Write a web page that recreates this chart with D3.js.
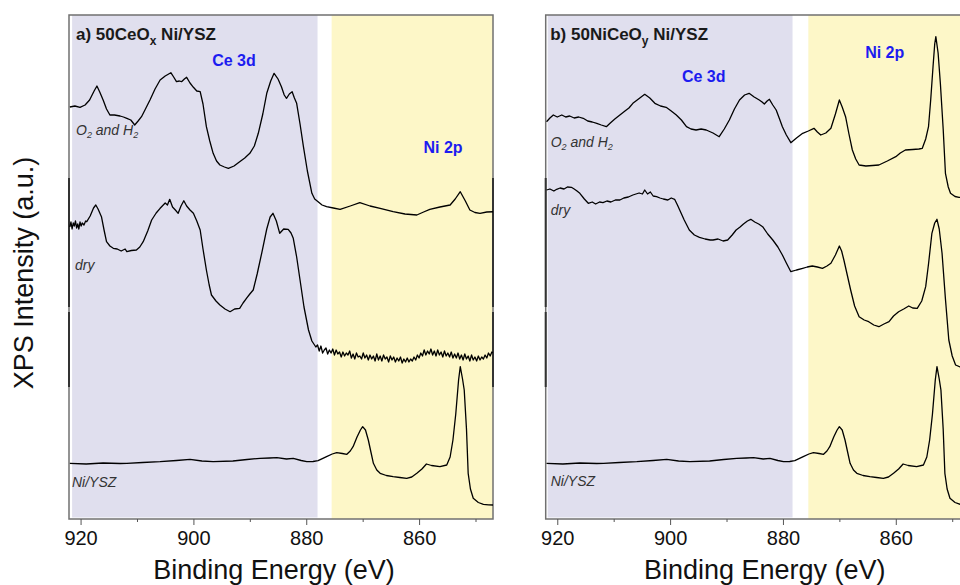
<!DOCTYPE html>
<html>
<head>
<meta charset="utf-8">
<script src="https://cdn.jsdelivr.net/npm/d3@7"></script>
<style>
  body { margin: 0; background: #fff; }
  svg { font-family: "Liberation Sans", Arial, sans-serif; display: block; }
</style>
</head>
<body>
<svg id="chart" width="960" height="585"></svg>
<script>
// binding energy axis (eV)
const majorTicks = [920, 900, 880, 860];
const minorTicks = [910, 890, 870, 850];
const energyDomain = [922.05, 846.9];

// shaded regions [from, to] in eV
const ceBandA = [921.5, 878.0];
const ceBandB = [921.7, 878.3];
const niBand = [875.5, 846.9];

// spectra: [binding energy, intensity (a.u., stacked offsets)]
const aO2H2 = [
  [921.9, 412], [921.0, 413], [920.1, 411.7], [919.2, 414], [918.4, 419], [917.6, 428], [917.1, 433],
  [916.6, 427], [916.0, 419], [915.4, 410], [914.8, 404], [914.0, 404], [913.0, 403], [912.4, 402],
  [911.8, 400.7], [911.1, 399], [910.4, 394], [909.8, 398], [909.2, 402.3], [908.5, 410], [907.7, 419],
  [906.8, 430], [905.9, 439], [905.0, 443], [904.0, 446.3], [903.5, 442], [903.0, 437.3], [902.5, 438],
  [902.1, 437.3], [901.6, 440], [901.2, 441.7], [900.6, 436], [900.0, 431.7], [899.4, 428], [898.8, 427.3],
  [898.3, 415], [897.7, 392.3], [897.1, 378], [896.5, 365.7], [895.9, 358], [895.3, 354], [894.5, 352],
  [893.8, 350.7], [892.8, 353], [891.8, 357.3], [890.9, 361], [890.0, 365.7], [889.2, 373], [888.5, 385.7],
  [887.7, 405], [887.0, 425.7], [886.3, 438], [885.7, 445.7], [885.0, 440], [884.4, 432.3], [883.9, 424],
  [883.5, 420.7], [883.0, 425], [882.5, 427.3], [882.1, 421], [881.7, 415.7], [881.1, 395], [880.5, 372.3],
  [879.8, 348], [879.0, 325.7], [878.5, 320], [877.9, 317.3], [877.2, 314], [876.4, 312.3], [875.2, 311],
  [874.0, 309.7], [872.2, 313], [870.5, 316.3], [868.7, 313], [866.9, 310.7], [864.6, 307.3], [862.5, 305],
  [860.4, 304], [859.2, 307], [858.1, 309.7], [856.3, 312], [854.5, 314], [853.6, 320], [852.7, 327.3],
  [851.8, 318], [851.0, 309], [850.1, 306.5], [849.2, 305.7], [848.0, 307], [846.8, 307.3]
];

const aDry = [
  [921.9, 292], [921.7, 297], [921.5, 290], [921.3, 296], [921.1, 293], [920.9, 298], [920.7, 291],
  [920.5, 295], [920.3, 290], [920.1, 297], [919.9, 293], [919.7, 296], [919.4, 294], [919.1, 298],
  [918.9, 297.3], [918.3, 303], [917.7, 311], [917.3, 314], [916.9, 310], [916.3, 302.3],
  [915.8, 288], [915.4, 277.3], [914.8, 273], [914.2, 270.7], [913.5, 270], [912.8, 268], [912.1, 270],
  [911.8, 267.3], [911.0, 268.5], [910.1, 269], [909.5, 272], [908.9, 277.3], [908.1, 288], [907.4, 299],
  [906.6, 306], [905.9, 310.7], [905.0, 316], [904.6, 314], [904.2, 319.7], [903.7, 312], [903.2, 309],
  [902.7, 305.7], [902.2, 313], [901.7, 318.3], [901.2, 313], [900.6, 309], [900.0, 305.7], [899.4, 298],
  [898.8, 289], [898.3, 270], [897.7, 249], [897.2, 234], [896.8, 224], [896.0, 218], [895.3, 214],
  [894.4, 210], [893.5, 207.3], [892.7, 210], [891.8, 210.7], [891.2, 216], [890.6, 220.7], [890.0, 225],
  [889.4, 229], [888.7, 245], [887.9, 265.7], [887.0, 290], [886.4, 302], [885.9, 305.7], [885.3, 298],
  [884.7, 285.7], [884.0, 290], [883.2, 289.7], [882.7, 286], [882.3, 280.7], [881.7, 262], [881.1, 239],
  [880.4, 212], [879.6, 189], [879.0, 178], [878.3, 172],
  [878.0, 174], [877.7, 168], [877.4, 173], [877.1, 166], [876.8, 169], [876.5, 171], [876.2, 165],
  [875.9, 169], [875.6, 166], [875.3, 170], [875.0, 164], [874.7, 169], [874.4, 165], [874.1, 167],
  [873.8, 162], [873.5, 167], [873.2, 163], [872.9, 166], [872.6, 164], [872.3, 168], [872.0, 161],
  [871.7, 165], [871.4, 160], [871.1, 166], [870.8, 162], [870.5, 163], [870.2, 160], [869.9, 166],
  [869.6, 161], [869.3, 164], [869.0, 159], [868.7, 164], [868.4, 160], [868.1, 163], [867.8, 158],
  [867.5, 165], [867.2, 159], [866.9, 163], [866.6, 158], [866.3, 164], [866.0, 160], [865.7, 162],
  [865.4, 157], [865.1, 163], [864.8, 159], [864.5, 162], [864.2, 157], [863.9, 161], [863.6, 158],
  [863.3, 162], [863.0, 156], [862.7, 160], [862.4, 157], [862.1, 161], [861.8, 157], [861.5, 160],
  [861.2, 158], [860.9, 162], [860.6, 159], [860.3, 164], [860.0, 161], [859.7, 166], [859.4, 163],
  [859.1, 169], [858.8, 164], [858.5, 168], [858.2, 165], [857.9, 170], [857.6, 164], [857.3, 168],
  [857.0, 163], [856.7, 169], [856.4, 164], [856.1, 167], [855.8, 162], [855.5, 168], [855.2, 163],
  [854.9, 166], [854.6, 162], [854.3, 167], [854.0, 161], [853.7, 165], [853.4, 161], [853.1, 166],
  [852.8, 160], [852.5, 164], [852.2, 159], [851.9, 165], [851.6, 160], [851.3, 163], [851.0, 158],
  [850.7, 164], [850.4, 159], [850.1, 162], [849.8, 158], [849.5, 163], [849.2, 159], [848.9, 162],
  [848.6, 160], [848.3, 164], [848.0, 161], [847.7, 166], [847.4, 163], [847.1, 167], [846.8, 166]
];

// reference Ni/YSZ, same spectrum in both panels
const niYsz = [
  [921.9, 55.7], [919.0, 55], [916.0, 56], [913.0, 55.5], [911.8, 55.7], [909.0, 56.5], [905.9, 57.3],
  [903.0, 58.5], [900.6, 59.7], [898.5, 58], [896.5, 57.3], [893.0, 58], [890.5, 59.5], [888.2, 60.7],
  [886.5, 61], [885.2, 61.3], [883.5, 60], [882.3, 60.7], [880.9, 58.5], [879.9, 57.3], [878.8, 57.5],
  [877.9, 58.3], [876.4, 62.3], [875.4, 65], [874.6, 66.3], [873.6, 65.5], [872.8, 64.7], [872.2, 68],
  [871.7, 72.3], [871.0, 82], [870.4, 89], [870.0, 92.3], [869.5, 89], [869.0, 79], [868.5, 66],
  [868.1, 55.7], [867.5, 49], [866.9, 45.7], [865.8, 43.5], [864.6, 42.3], [863.4, 41.5], [862.2, 40.7],
  [861.3, 42], [860.4, 45.7], [859.5, 50], [858.7, 55], [857.8, 53.5], [856.3, 52.3], [855.1, 54],
  [854.5, 62], [854.0, 79], [853.5, 105], [853.0, 139], [852.7, 152.3], [852.3, 140], [852.0, 129],
  [851.6, 90], [851.3, 45.7], [850.9, 30], [850.4, 20.7], [849.5, 16.5], [848.6, 14.7], [847.7, 14.2],
  [846.8, 14]
];

const bO2H2 = [
  [921.9, 397.3], [921.3, 401], [920.7, 404], [920.0, 402], [919.2, 404], [918.5, 402], [917.8, 403],
  [917.0, 401], [916.2, 402], [915.4, 400.7], [914.6, 398], [913.8, 397], [913.0, 395.7], [912.2, 394],
  [911.3, 392.3], [910.6, 396], [909.8, 400], [908.9, 404], [908.0, 408], [907.3, 411], [906.6, 415.7],
  [905.6, 420], [904.5, 424.7], [903.6, 421], [902.7, 415.7], [901.7, 413], [900.7, 411.7], [899.8, 408],
  [898.9, 404], [898.0, 399], [897.1, 392.3], [896.3, 390], [895.4, 389], [894.5, 390], [893.6, 389],
  [892.4, 386], [891.3, 382.3], [890.4, 390], [889.5, 399], [888.6, 410], [887.7, 419], [886.8, 424],
  [886.0, 425.7], [885.1, 422], [884.2, 419], [883.7, 417], [883.3, 415], [882.8, 418], [882.4, 419.7],
  [881.8, 414], [881.2, 409], [880.6, 400], [880.1, 392.3], [879.4, 384], [878.6, 376.3], [877.6, 381],
  [876.5, 385.7], [875.5, 388], [874.5, 390.7], [873.9, 387], [873.3, 384], [872.4, 386], [871.5, 390.7],
  [870.7, 405], [870.0, 419], [869.5, 412], [868.9, 402.3], [868.3, 385], [867.7, 369], [867.1, 360],
  [866.5, 354], [865.3, 353], [864.1, 353.5], [863.0, 354], [861.5, 358], [860.0, 362.3], [859.2, 366],
  [858.3, 369], [857.0, 369.5], [855.9, 370], [855.3, 370.7], [854.7, 380], [854.2, 392.3], [853.8, 420],
  [853.4, 452.3], [853.1, 475], [852.9, 482.3], [852.5, 466], [852.1, 435.7], [851.6, 390], [851.2, 345.7],
  [850.7, 332], [850.3, 325.7], [849.5, 322.5], [848.8, 321.7], [847.8, 321], [846.8, 321]
];

const bDry = [
  [921.9, 329], [921.3, 330], [920.6, 328], [920.1, 329.7], [919.5, 331], [918.8, 330], [918.2, 332],
  [917.5, 331.7], [917.0, 330], [916.5, 328], [916.0, 325.7], [915.2, 320], [914.5, 315.7], [913.8, 317],
  [913.2, 315], [912.5, 317], [911.9, 316.3], [911.2, 318], [910.5, 317], [909.7, 319], [908.9, 319],
  [908.2, 321], [907.4, 322], [906.6, 324], [905.5, 326], [904.9, 325], [904.5, 329], [904.0, 325],
  [903.5, 327], [903.0, 323], [902.4, 322.3], [901.8, 321], [901.2, 320], [900.4, 319], [899.8, 321],
  [899.2, 319.7], [898.7, 314], [898.3, 309], [897.5, 299], [896.6, 289], [895.7, 284], [894.8, 281.7],
  [893.8, 280], [892.9, 279], [892.4, 279], [891.5, 280], [890.6, 278], [889.8, 279], [889.0, 284],
  [888.3, 289], [887.6, 292], [887.0, 295], [886.3, 298], [885.7, 299.7], [885.0, 297], [884.3, 295],
  [883.6, 292.3], [882.7, 285], [881.8, 279], [880.9, 272], [880.1, 264], [879.4, 256], [878.6, 247.3],
  [877.6, 249], [876.5, 250.7], [875.7, 252], [874.8, 253], [873.9, 252], [873.0, 250.7], [872.2, 253],
  [871.5, 255.7], [870.7, 264], [870.0, 273], [869.6, 268], [869.2, 259], [868.6, 244], [868.0, 229],
  [867.3, 213], [866.5, 202.3], [865.6, 199], [864.8, 197.3], [863.9, 194], [863.0, 192.3], [862.1, 195],
  [861.2, 197.3], [860.4, 203], [859.5, 207.3], [858.6, 210], [857.7, 213], [857.0, 211], [856.2, 210.7],
  [855.4, 218], [854.7, 232.3], [854.2, 255], [853.6, 285.7], [853.1, 296], [852.7, 299.7], [852.3, 290],
  [851.8, 265.7], [851.2, 220], [850.6, 179], [850.0, 163], [849.4, 154], [848.6, 152], [847.8, 151.5],
  [846.8, 151]
];

const panels = [
  {
    left: 69, title: ['a) 50CeO', 'x', ' Ni/YSZ'], ceBand: ceBandA,
    series: [aO2H2, aDry, niYsz],
    labels: [[7, 120], [6, 255], [3, 472]],
    ceLabel: [165, 51], niLabel: [374, 138], xTitle: 205
  },
  {
    left: 545.7, title: ['b) 50NiCeO', 'y', ' Ni/YSZ'], ceBand: ceBandB,
    series: [bO2H2, bDry, niYsz],
    labels: [[5, 132], [5, 200], [5, 471]],
    ceLabel: [158, 67], niLabel: [339, 43], xTitle: 219
  }
];

// label text pieces: [text, isSubscript]
const sampleNames = [
  [['O', 0], ['2', 1], [' and H', 0], ['2', 1]],
  [['dry', 0]],
  [['Ni/YSZ', 0]]
];

const svg = d3.select('#chart'),
  marginTop = 15,
  width = 424,
  height = 504;

const x = d3.scaleLinear().domain(energyDomain).range([0, width]);
const y = d3.scaleLinear().domain([0, 504]).range([height, 0]);
const line = d3.line().x(d => x(d[0])).y(d => y(d[1]));

panels.forEach((p, i) => {
  const g = svg.append('g').attr('transform', `translate(${p.left},${marginTop})`);

  g.append('clipPath').attr('id', 'clip' + i)
    .append('rect').attr('width', width).attr('height', height);

  g.append('rect')
    .attr('x', x(p.ceBand[0])).attr('y', 0)
    .attr('width', x(p.ceBand[1]) - x(p.ceBand[0])).attr('height', height - 1.5)
    .attr('fill', '#e0dfee');
  g.append('rect')
    .attr('x', x(niBand[0])).attr('y', 0)
    .attr('width', x(niBand[1]) - x(niBand[0])).attr('height', height)
    .attr('fill', '#fdf7c8');

  // frame
  g.append('rect')
    .attr('width', width).attr('height', height)
    .attr('fill', 'none').attr('stroke', '#707070').attr('stroke-width', 1.5);
  [[163, 292], [297, 372]].forEach(s => {
    [0, width].forEach(xx => {
      g.append('line').attr('x1', xx).attr('x2', xx).attr('y1', s[0]).attr('y2', s[1])
        .attr('stroke', '#333').attr('stroke-width', 2);
    });
  });

  const ax = g.append('g').attr('transform', `translate(0,${height})`)
    .call(d3.axisBottom(x).tickValues(majorTicks).tickSize(6).tickPadding(6));
  ax.select('.domain').remove();
  ax.selectAll('line').attr('stroke', '#555');
  ax.selectAll('text').attr('font-size', 20).attr('fill', '#111')
    .attr('font-family', '"Liberation Sans", Arial, sans-serif');

  const mx = g.append('g').attr('transform', `translate(0,${height})`)
    .call(d3.axisBottom(x).tickValues(minorTicks).tickSize(3).tickFormat(''));
  mx.select('.domain').remove();
  mx.selectAll('line').attr('stroke', '#555');

  g.append('g').attr('clip-path', `url(#clip${i})`)
    .selectAll('path')
    .data(p.series)
    .enter()
    .append('path')
    .attr('d', line)
    .attr('fill', 'none')
    .attr('stroke', '#000')
    .attr('stroke-width', 1.3)
    .attr('stroke-linejoin', 'round');

  // panel title
  const t = g.append('text').attr('x', i === 0 ? 7 : 4.5).attr('y', 24.5)
    .attr('font-size', 17).attr('font-weight', 'bold').attr('fill', '#1a1a1a');
  t.append('tspan').text(p.title[0]);
  t.append('tspan').text(p.title[1]).attr('font-size', 12).attr('dy', 5);
  t.append('tspan').text(p.title[2]).attr('dy', -5);

  g.append('text').attr('x', p.ceLabel[0]).attr('y', p.ceLabel[1])
    .attr('text-anchor', 'middle').attr('font-size', 16).attr('font-weight', 'bold')
    .attr('fill', '#1c1cf0').text('Ce 3d');
  g.append('text').attr('x', p.niLabel[0]).attr('y', p.niLabel[1])
    .attr('text-anchor', 'middle').attr('font-size', 16).attr('font-weight', 'bold')
    .attr('fill', '#1c1cf0').text('Ni 2p');

  sampleNames.forEach((parts, k) => {
    const lt = g.append('text').attr('x', p.labels[k][0]).attr('y', p.labels[k][1])
      .attr('font-size', 14).attr('font-style', 'italic').attr('fill', '#333');
    parts.forEach(pt => {
      lt.append('tspan').text(pt[0])
        .attr('font-size', pt[1] ? 9 : 14)
        .attr('baseline-shift', pt[1] ? '-3' : null);
    });
  });

  svg.append('text')
    .attr('x', p.left + p.xTitle).attr('y', 579)
    .attr('text-anchor', 'middle').attr('font-size', 27).attr('fill', '#111')
    .text('Binding Energy (eV)');
});

svg.append('text')
  .attr('transform', 'translate(33,273) rotate(-90)')
  .attr('text-anchor', 'middle').attr('font-size', 27).attr('fill', '#111')
  .text('XPS Intensity (a.u.)');
</script>
</body>
</html>
